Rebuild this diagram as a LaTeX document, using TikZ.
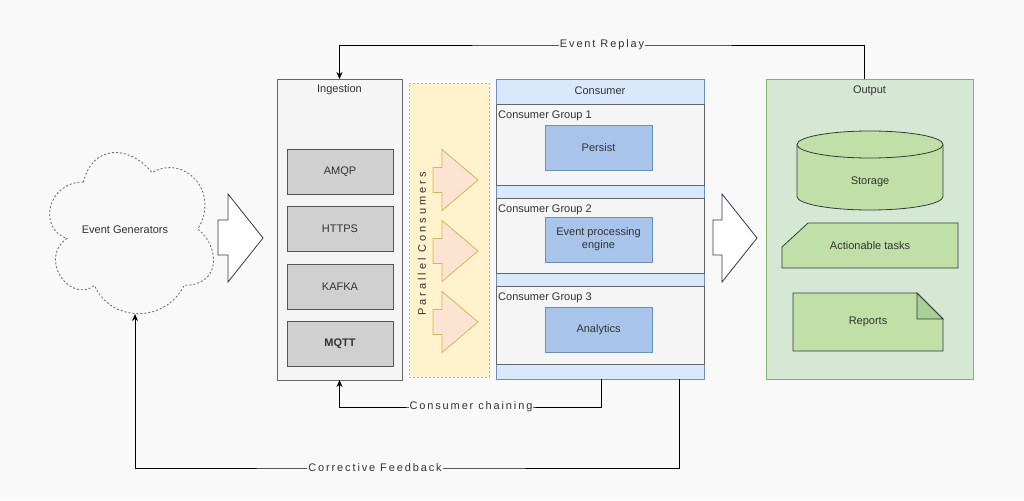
\documentclass[tikz,border=0pt]{standalone}
\usepackage{fontspec}
\setmainfont{Liberation Sans}
\newfontfamily\lblfont[LetterSpace=17]{Liberation Sans}
\newfontfamily\parfont[LetterSpace=27]{Liberation Sans}
\usetikzlibrary{arrows.meta}
\definecolor{bg}{HTML}{F9F9F9}
\definecolor{txt}{HTML}{333333}
\definecolor{grayfill}{HTML}{F5F5F5}
\definecolor{graystroke}{HTML}{666666}
\definecolor{protofill}{HTML}{D0D0D0}
\definecolor{protostroke}{HTML}{555555}
\definecolor{yelfill}{HTML}{FFF2CC}
\definecolor{yelstroke}{HTML}{D6B656}
\definecolor{peach}{HTML}{FDE4D2}
\definecolor{bluefill}{HTML}{DAE8FC}
\definecolor{bluestroke}{HTML}{6C8EBF}
\definecolor{blueinner}{HTML}{A9C4EB}
\definecolor{greenfill}{HTML}{D5E8D4}
\definecolor{greenstroke}{HTML}{82B366}
\definecolor{greeninner}{HTML}{C0E0A8}
\definecolor{greenfold}{HTML}{A8CF94}
\definecolor{darkline}{HTML}{36393D}
\begin{document}
\begin{tikzpicture}[x=1pt,y=-1pt,
  font=\fontsize{11}{13}\selectfont, text=txt,
  box/.style={draw, rectangle, inner sep=0pt, outer sep=0pt, line width=0.8pt},
  graybox/.style={box, fill=grayfill, draw=graystroke},
  protobox/.style={box, fill=protofill, draw=protostroke, minimum width=106pt, minimum height=45pt},
  bluebox/.style={box, fill=blueinner, draw=bluestroke, minimum width=107pt, minimum height=45pt, align=center},
  conn/.style={draw=black, line width=0.8pt},
  arr/.style={conn, -{Stealth[length=7pt,width=6pt]}},
  lbl/.style={fill=bg, inner sep=1pt, font=\fontsize{11}{13}\lblfont, text=txt},
  bigarrow/.style={draw=darkline, fill=white, line width=0.8pt},
  smallarrow/.style={draw=yelstroke, fill=peach, line width=0.8pt},
  greenshape/.style={draw=darkline, fill=greeninner, line width=0.8pt},
  cloudline/.style={draw=graystroke, dash pattern=on 2pt off 2pt, line width=0.8pt},
  title/.style={inner sep=0pt, text=txt}
]
% background
\fill[bg] (0,0) rectangle (1024,500);
\useasboundingbox (0,0) rectangle (1024,500);

% Event generators cloud (draw.io cloud, box x0=37.7 w=183, y0=135 h=188)
\begin{scope}[shift={(37.7,135)}, x=183pt, y=-188pt]
\draw[cloudline] (0.25,0.25)
  .. controls (0.05,0.25) and (0,0.5) .. (0.16,0.55)
  .. controls (0,0.66) and (0.18,0.9) .. (0.31,0.8)
  .. controls (0.4,1) and (0.7,1) .. (0.8,0.8)
  .. controls (1,0.8) and (1,0.6) .. (0.875,0.5)
  .. controls (1,0.3) and (0.8,0.1) .. (0.625,0.2)
  .. controls (0.5,0.05) and (0.3,0.05) .. (0.25,0.25) -- cycle;
\end{scope}
\node[title] (cloudtxt) at (125,230) {Event Generators};
\coordinate (cloudbottom) at (135,314);

% big arrow 1
\draw[bigarrow] (218,220) -- (228,220) -- (228,194) -- (263,238) -- (228,282) -- (228,255) -- (218,255) -- cycle;

% Ingestion
\node[graybox, minimum width=125pt, minimum height=301pt] (ingestion) at (339.5,229.5) {};
\node[title] (ingtitle) at (339.5,90) {Ingestion};
\node[protobox] (amqp) at (340,171.5) {AMQP};
\node[protobox] (https) at (340,229) {HTTPS};
\node[protobox] (kafka) at (340,286.5) {KAFKA};
\node[protobox, font=\fontsize{11}{13}\selectfont\bfseries] (mqtt) at (340,344) {MQTT};

% Parallel consumers
\node[box, fill=yelfill, draw=yelstroke, dash pattern=on 2pt off 2pt, minimum width=80pt, minimum height=294pt] (parallel) at (449,230) {};
\node[title, rotate=90, font=\fontsize{11}{13}\parfont] (partxt) at (422,244) {Parallel Consumers};
\foreach \cy in {180,251,322}{
  \draw[smallarrow] (433,\cy-12.5) -- (442,\cy-12.5) -- (442,\cy-30.5) -- (478,\cy) -- (442,\cy+30.5) -- (442,\cy+12.5) -- (433,\cy+12.5) -- cycle;
}

% Consumer
\node[box, fill=bluefill, draw=bluestroke, minimum width=208pt, minimum height=300pt] (consumer) at (600,229) {};
\node[title] (constitle) at (600,91) {Consumer};
\node[graybox, minimum width=208pt, minimum height=81pt] (group1) at (600,144.5) {};
\node[graybox, minimum width=208pt, minimum height=75pt] (group2) at (600,235.5) {};
\node[graybox, minimum width=208pt, minimum height=78pt] (group3) at (600,325) {};
\node[title, anchor=west] (g1txt) at (498,116) {Consumer Group 1};
\node[title, anchor=west] (g2txt) at (498,210) {Consumer Group 2};
\node[title, anchor=west] (g3txt) at (498,298) {Consumer Group 3};
\node[bluebox] (persist) at (598.5,148) {Persist};
\node[bluebox] (engine) at (598.5,239.5) {Event processing\\engine};
\node[bluebox] (analytics) at (598.5,329.5) {Analytics};

% big arrow 2
\draw[bigarrow] (713,220) -- (722,220) -- (722,194) -- (757,238) -- (722,282) -- (722,255) -- (713,255) -- cycle;

% Output
\node[box, fill=greenfill, draw=greenstroke, minimum width=207pt, minimum height=300pt] (output) at (869.5,229) {};
\node[title] (outtitle) at (869.5,91) {Output};
% storage cylinder
\draw[greenshape] (797,144.5) -- (797,196.5) arc[start angle=180, end angle=0, x radius=73, y radius=13.5]
  -- (943,144.5) arc[start angle=0, end angle=-180, x radius=73, y radius=13.5] -- cycle;
\draw[greenshape, fill=none] (797,144.5) arc[start angle=180, end angle=0, x radius=73, y radius=13.5];
\node[title] (storage) at (870,182) {Storage};
% actionable tasks card
\draw[greenshape] (808,223) -- (958,223) -- (958,268) -- (782,268) -- (782,247) -- cycle;
\node[title] (tasks) at (870,245.5) {Actionable tasks};
% reports note
\draw[greenshape] (793,293) -- (917,293) -- (943,319) -- (943,351) -- (793,351) -- cycle;
\draw[greenshape, fill=greenfold] (917,293) -- (917,319) -- (943,319) -- cycle;
\node[title] (reports) at (868,322) {Reports};

% connectors
\coordinate (er) at (602,45);
\coordinate (cc) at (471,407);
\coordinate (cf) at (375,468);
\draw[arr] ([xshift=-5.5pt]output.north) |- (er) -| (ingestion.north);
\node[lbl] (erlbl) at (er) {Event Replay};
\draw[arr] ([xshift=1pt]consumer.south) |- (cc) -| (ingestion.south);
\node[lbl] (cclbl) at (cc) {Consumer chaining};
\draw[arr] ([xshift=79pt]consumer.south) |- (cf) -| (cloudbottom);
\node[lbl] (cflbl) at (cf) {Corrective Feedback};
\end{tikzpicture}
\end{document}
